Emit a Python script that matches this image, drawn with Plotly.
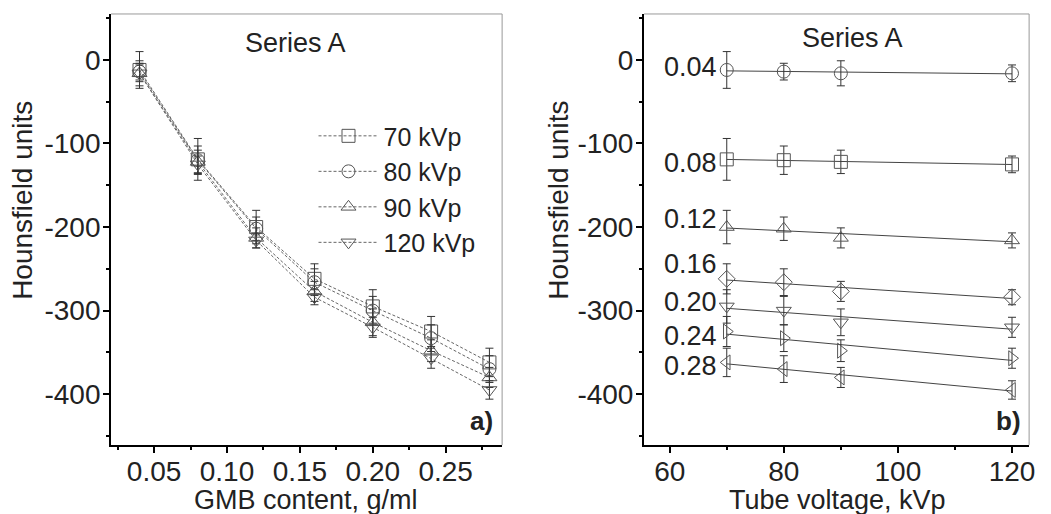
import numpy as np
import plotly.graph_objects as go

gmb = [0.04, 0.08, 0.12, 0.16, 0.20, 0.24, 0.28]
kvp = [70, 80, 90, 120]
kvp_labels = ["70 kVp", "80 kVp", "90 kVp", "120 kVp"]
gmb_labels = ["0.04", "0.08", "0.12", "0.16", "0.20", "0.24", "0.28"]

hu_70 = [-12, -119, -200, -262, -295, -325, -362]
hu_80 = [-14, -120, -202, -266, -300, -333, -370]
hu_90 = [-16, -122, -213, -277, -314, -348, -380]
hu_120 = [-16, -125, -216, -284, -320, -357, -395]

err_70 = [22, 25, 20, 18, 20, 18, 17]
err_80 = [10, 17, 14, 16, 17, 16, 16]
err_90 = [15, 14, 12, 12, 16, 13, 12]
err_120 = [10, 10, 9, 9, 12, 12, 11]

label_y = [-8, -123, -190, -244, -290, -330, -366]

y_tick_vals = [0, -100, -200, -300, -400]
y_tick_text = ["0", "-100", "-200", "-300", "-400"]
x1_tick_vals = [0.05, 0.10, 0.15, 0.20, 0.25]
x1_tick_text = ["0.05", "0.10", "0.15", "0.20", "0.25"]
x2_tick_vals = [60, 80, 100, 120]

hu_by_kvp = [hu_70, hu_80, hu_90, hu_120]
err_by_kvp = [err_70, err_80, err_90, err_120]
left_symbols = ["square-open", "circle-open", "triangle-up-open", "triangle-down-open"]
right_symbols = ["circle-open", "square-open", "triangle-up-open", "diamond-open",
                 "triangle-down-open", "triangle-right-open", "triangle-left-open"]

FONT = "Liberation Sans, Arial, sans-serif"
MK = "#555555"
ERR = "#333333"
TXT = "#222222"

fig = go.Figure()

# Left panel
for i in range(4):
    fig.add_trace(go.Scatter(
        x=gmb, y=hu_by_kvp[i], name=kvp_labels[i], mode="lines+markers",
        line=dict(color="#666666", width=1, dash="3px,2px"),
        marker=dict(symbol=left_symbols[i], size=13, color=MK, line=dict(width=1, color=MK)),
        error_y=dict(type="data", array=err_by_kvp[i], color=ERR, thickness=1, width=4),
        xaxis="x", yaxis="y", showlegend=True,
    ))

# Right panel
for j in range(len(gmb)):
    ys = [hu_by_kvp[k][j] for k in range(4)]
    es = [err_by_kvp[k][j] for k in range(4)]
    coef = np.polyfit(kvp, ys, 1)
    xf = [kvp[0], kvp[-1]]
    fig.add_trace(go.Scatter(
        x=xf, y=list(np.polyval(coef, xf)), mode="lines",
        line=dict(color="#444444", width=1), xaxis="x2", yaxis="y2", showlegend=False,
        hoverinfo="skip",
    ))
    fig.add_trace(go.Scatter(
        x=kvp, y=ys, mode="markers",
        marker=dict(symbol=right_symbols[j], size=13, color=MK, line=dict(width=1, color=MK)),
        error_y=dict(type="data", array=es, color=ERR, thickness=1, width=4),
        xaxis="x2", yaxis="y2", showlegend=False,
    ))

axis_common = dict(
    showline=True, linecolor="black", linewidth=2, ticks="outside", ticklen=6,
    tickwidth=1.5, tickcolor="black", showgrid=False, zeroline=False,
    tickfont=dict(family=FONT, size=28, color=TXT),
)

fig.update_layout(
    width=1051, height=514, margin=dict(l=0, r=0, t=0, b=0),
    paper_bgcolor="white", plot_bgcolor="white",
    font=dict(family=FONT, color=TXT),
    xaxis=dict(domain=[0.1063, 0.4805], range=[0.0205, 0.2887],
               tickmode="array", tickvals=x1_tick_vals, ticktext=x1_tick_text,
               anchor="y", ticklabelstandoff=-6,
               minor=dict(dtick=0.025, tick0=0.025, ticks="outside", ticklen=3, tickcolor="black"),
               **axis_common),
    yaxis=dict(domain=[0.134, 0.9728], range=[-461, 55],
               tickmode="array", tickvals=y_tick_vals, ticktext=y_tick_text, anchor="x",
               ticklabelstandoff=-3,
               minor=dict(dtick=50, tick0=0, ticks="outside", ticklen=3, tickcolor="black"),
               **axis_common),
    xaxis2=dict(domain=[0.6163, 0.9848], range=[55.5, 123],
                tickmode="array", tickvals=x2_tick_vals, anchor="y2",
                ticklabelstandoff=-6,
                minor=dict(dtick=10, tick0=60, ticks="outside", ticklen=3, tickcolor="black"),
                **axis_common),
    yaxis2=dict(domain=[0.134, 0.9728], range=[-461, 55],
                tickmode="array", tickvals=y_tick_vals, ticktext=y_tick_text, anchor="x2",
                ticklabelstandoff=-3,
                minor=dict(dtick=50, tick0=0, ticks="outside", ticklen=3, tickcolor="black"),
                **axis_common),
    legend=dict(x=0.300, y=0.780, xanchor="left", yanchor="top", bgcolor="rgba(0,0,0,0)",
                font=dict(family=FONT, size=25, color=TXT), itemwidth=60,
                tracegroupgap=0),
    showlegend=True,
)

shapes = []
for xr, yr in (("x", "y"), ("x2", "y2")):
    shapes.append(dict(type="line", xref=xr + " domain", yref=yr + " domain",
                       x0=0, x1=1, y0=1, y1=1, line=dict(color="#999999", width=1)))
    shapes.append(dict(type="line", xref=xr + " domain", yref=yr + " domain",
                       x0=1, x1=1, y0=0, y1=1, line=dict(color="#999999", width=1)))
fig.update_layout(shapes=shapes)

ann = []
ann.append(dict(text="Series A", x=297 / 1051, y=1 - 43 / 514, xref="paper", yref="paper",
                xanchor="center", yanchor="middle", showarrow=False,
                font=dict(family=FONT, size=27, color=TXT)))
ann.append(dict(text="Series A", x=857.5 / 1051, y=1 - 38 / 514, xref="paper", yref="paper",
                xanchor="center", yanchor="middle", showarrow=False,
                font=dict(family=FONT, size=27, color=TXT)))
ann.append(dict(text="<b>a)</b>", x=498 / 1051, y=1 - 421 / 514, xref="paper", yref="paper",
                xanchor="right", yanchor="middle", showarrow=False,
                font=dict(family=FONT, size=26, color=TXT)))
ann.append(dict(text="<b>b)</b>", x=1029 / 1051, y=1 - 421 / 514, xref="paper", yref="paper",
                xanchor="right", yanchor="middle", showarrow=False,
                font=dict(family=FONT, size=26, color=TXT)))
ann.append(dict(text="GMB content, g/ml", x=308 / 1051, y=1 - 500 / 514, xref="paper", yref="paper",
                xanchor="center", yanchor="middle", showarrow=False,
                font=dict(family=FONT, size=27, color=TXT)))
ann.append(dict(text="Tube voltage, kVp", x=842 / 1051, y=1 - 500 / 514, xref="paper", yref="paper",
                xanchor="center", yanchor="middle", showarrow=False,
                font=dict(family=FONT, size=27, color=TXT)))
ann.append(dict(text="Hounsfield units", x=23 / 1051, y=1 - 200 / 514, xref="paper", yref="paper",
                xanchor="center", yanchor="middle", showarrow=False, textangle=-90,
                font=dict(family=FONT, size=28, color=TXT)))
ann.append(dict(text="Hounsfield units", x=562 / 1051, y=1 - 200 / 514, xref="paper", yref="paper",
                xanchor="center", yanchor="middle", showarrow=False, textangle=-90,
                font=dict(family=FONT, size=28, color=TXT)))
for j in range(len(gmb)):
    ann.append(dict(text=gmb_labels[j], x=68.7, y=label_y[j], xref="x2", yref="y2",
                    xanchor="right", yanchor="middle", showarrow=False,
                    font=dict(family=FONT, size=27, color=TXT)))
fig.update_layout(annotations=ann)

fig.write_html("out.html")
